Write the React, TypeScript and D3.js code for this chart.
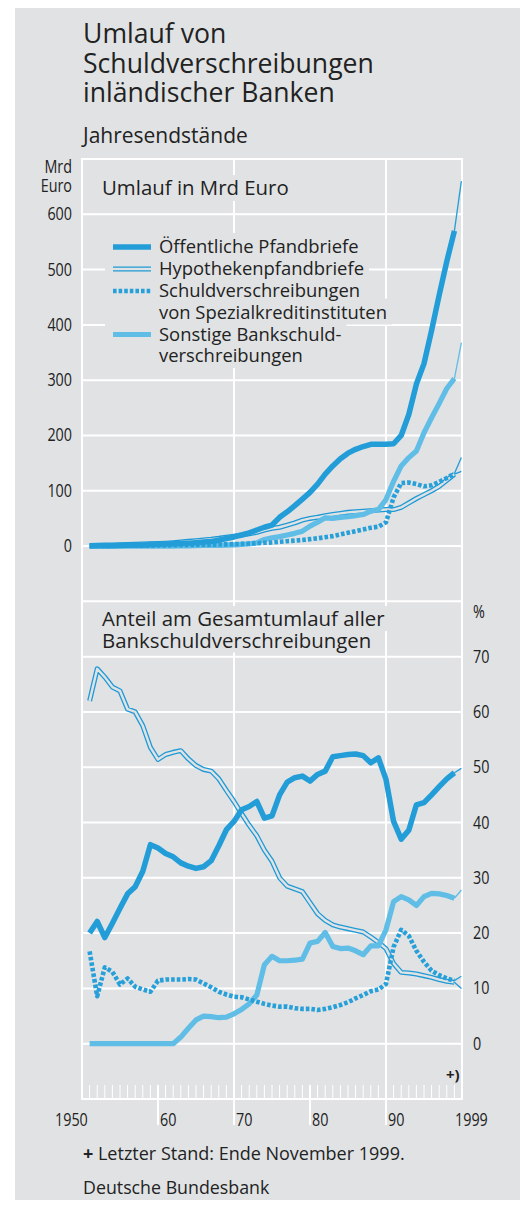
import React, { useEffect, useRef } from "react";
import * as d3 from "d3";

// ---------- data ----------
// year-end values (Jahresendstände) 1950 ... 1998
const YEARS = [
  1950, 1951, 1952, 1953, 1954, 1955, 1956, 1957, 1958, 1959,
  1960, 1961, 1962, 1963, 1964, 1965, 1966, 1967, 1968, 1969,
  1970, 1971, 1972, 1973, 1974, 1975, 1976, 1977, 1978, 1979,
  1980, 1981, 1982, 1983, 1984, 1985, 1986, 1987, 1988, 1989,
  1990, 1991, 1992, 1993, 1994, 1995, 1996, 1997, 1998,
];
// latest value: end of November 1999
const LAST_STAND = 1999 + 11 / 12;

// Umlauf in Mrd Euro
const OEFF_MRD = [
  0.3, 0.4, 0.5, 0.7, 1.0, 1.4, 1.7, 2.1, 2.8, 3.2,
  3.5, 4.0, 4.6, 5.3, 6.1, 7.2, 8.3, 10.5, 13.6, 16.5,
  20, 24, 29, 34, 38, 52, 62, 73, 85, 97,
  112, 130, 145, 158, 168, 175, 180, 184, 184, 184,
  185, 200, 238, 293, 330, 390, 454, 515, 570,
];
const OEFF_MRD_LAST = 660;
const HYP_MRD = [
  0.9, 1.3, 1.7, 2.1, 2.5, 3.0, 3.5, 3.9, 4.2, 4.6,
  5.3, 6.2, 7.4, 8.5, 9.7, 11.2, 12.4, 14.0, 16.1, 18.0,
  20, 22, 25, 29, 32, 34, 38, 42, 47, 50,
  52, 55, 57, 59, 61, 62, 63, 64, 65, 66,
  66, 70, 78, 86, 93, 100, 108, 119, 130,
];
const HYP_MRD_LAST = 135;
const SPEZ_MRD = [
  0.25, 0.2, 0.35, 0.45, 0.45, 0.6, 0.6, 0.65, 0.75, 1.0,
  1.2, 1.4, 1.6, 1.9, 2.2, 2.5, 2.6, 2.7, 3.1, 3.5,
  4.0, 4.5, 5.0, 6.0, 6.5, 7.8, 8.8, 9.8, 11, 12.5,
  14, 16, 18, 21, 24, 27, 30, 33, 35, 43,
  88, 114, 115, 112, 108, 110, 116, 123, 131,
];
const SPEZ_MRD_LAST = 160;
const SONST_MRD = [
  0, 0, 0, 0, 0, 0, 0, 0, 0, 0,
  0, 0, 0.15, 0.45, 0.8, 1.1, 1.2, 1.4, 1.7, 2.2,
  3.0, 4.0, 5.8, 12, 15, 17, 20, 23, 27, 36,
  43, 51, 50, 52, 53, 55, 57, 63, 66, 84,
  117, 145, 160, 172, 205, 232, 258, 285, 303,
];
const SONST_MRD_LAST = 368;

// Anteil am Gesamtumlauf in %
const OEFF_PCT = [
  20.0, 22.1, 19.2, 21.8, 24.5, 27.1, 28.4, 31.2, 36.0, 35.4,
  34.4, 33.8, 32.7, 32.1, 31.7, 32.0, 33.1, 35.8, 38.7, 40.2,
  42.3, 42.9, 43.8, 40.8, 41.2, 45.0, 47.3, 48.1, 48.4, 47.5,
  48.7, 49.3, 51.9, 52.1, 52.3, 52.4, 52.1, 50.8, 51.7, 47.8,
  40.2, 37.0, 38.6, 43.2, 43.6, 45.0, 46.5, 47.9, 49.0,
];
const OEFF_PCT_LAST = 49.8;
const HYP_PCT = [
  62.0, 67.8, 66.3, 64.5, 63.8, 60.5, 60.0, 57.5, 53.6, 51.4,
  52.3, 52.7, 53.0, 51.5, 50.3, 49.6, 49.3, 47.9, 45.8, 43.8,
  41.6, 39.5, 37.6, 35.0, 33.0, 30.0, 28.5, 28.0, 27.5, 25.5,
  23.5, 22.3, 21.5, 21.1, 20.8, 20.5, 20.2, 19.3, 18.3, 17.2,
  14.5, 12.9, 12.8, 12.6, 12.3, 12.0, 11.6, 11.3, 11.1,
];
const HYP_PCT_LAST = 10.0;
const SPEZ_PCT = [
  16.7, 8.6, 13.8, 13.0, 10.7, 11.8, 10.3, 9.8, 9.4, 11.4,
  11.6, 11.6, 11.6, 11.7, 11.6, 10.9, 10.2, 9.4, 8.9, 8.5,
  8.4, 8.0, 7.6, 7.2, 6.9, 6.7, 6.7, 6.4, 6.3, 6.3,
  6.1, 6.3, 6.6, 7.0, 7.5, 8.2, 8.8, 9.5, 9.8, 10.8,
  17.5, 20.6, 19.5, 16.8, 14.8, 13.2, 12.4, 11.8, 11.4,
];
const SPEZ_PCT_LAST = 12.2;
const SONST_PCT = [
  0, 0, 0, 0, 0, 0, 0, 0, 0, 0,
  0, 0, 1.2, 2.8, 4.3, 5.0, 4.9, 4.7, 4.8, 5.4,
  6.2, 7.2, 8.8, 14.3, 15.8, 15.0, 15.0, 15.1, 15.3, 18.2,
  18.5, 20.1, 17.6, 17.2, 17.3, 16.8, 16.1, 17.7, 17.7, 20.6,
  25.7, 26.6, 26.0, 25.0, 26.6, 27.2, 27.1, 26.8, 26.3,
];
const SONST_PCT_LAST = 27.8;

// texts and ticks
const TITLE_LINES = ["Umlauf von", "Schuldverschreibungen", "inländischer Banken"];
const SUBTITLE = "Jahresendstände";
const UNIT_LINES = ["Mrd", "Euro"];
const TOP_PANEL_LABEL = "Umlauf in Mrd Euro";
const BOTTOM_PANEL_LABEL = ["Anteil am Gesamtumlauf aller", "Bankschuldverschreibungen"];
const LEGEND = [
  { key: "oeff", lines: ["Öffentliche Pfandbriefe"] },
  { key: "hyp", lines: ["Hypothekenpfandbriefe"] },
  { key: "spez", lines: ["Schuldverschreibungen", "von Spezialkreditinstituten"] },
  { key: "sonst", lines: ["Sonstige Bankschuld-", "verschreibungen"] },
];
const TOP_TICKS = [0, 100, 200, 300, 400, 500, 600];
const BOTTOM_TICKS = [0, 10, 20, 30, 40, 50, 60, 70];
const X_LABELS = [
  { year: 1950, label: "1950" },
  { year: 1960, label: "60" },
  { year: 1970, label: "70" },
  { year: 1980, label: "80" },
  { year: 1990, label: "90" },
  { year: 2000, label: "1999" },
];
const FOOTNOTE = "Letzter Stand: Ende November 1999.";
const SOURCE = "Deutsche Bundesbank";

// ---------- style ----------
const W = 520;
const H = 1210;
const BG = "#e1e2e4";
const GRID = "#ffffff";
const TEXT = "#222222";
const FONT = "'Open Sans', 'Noto Sans', sans-serif";
const C_OEFF = "#229dd8";
const C_HYP = "#1d9ad6";
const C_SPEZ = "#27a0d9";
const C_SONST = "#5fbde6";

type Sel = d3.Selection<any, unknown, null, undefined>;

export default function App() {
  const ref = useRef<SVGSVGElement>(null);

  useEffect(() => {
    const svg = d3.select(ref.current as SVGSVGElement);
    svg.selectAll("*").remove();

    const plotL = 82;
    const plotR = 462;
    const plotT = 159;
    const plotB = 1099;
    const unit = (plotB - plotT) / 17;
    const split = plotT + 8 * unit;

    const x = d3.scaleLinear().domain([1950, 2000]).range([plotL, plotR]);
    const yTop = d3.scaleLinear().domain([-100, 700]).range([split, plotT]);
    const yBot = d3.scaleLinear().domain([-10, 80]).range([plotB, split]);

    // panel
    svg.append("rect").attr("x", 15).attr("y", 8).attr("width", W - 15).attr("height", 1192).attr("fill", BG);

    const grid = svg.append("g").attr("stroke", GRID).attr("stroke-width", 2);
    d3.range(-100, 701, 100).forEach((v) => {
      grid.append("line").attr("x1", plotL).attr("x2", plotR).attr("y1", yTop(v)).attr("y2", yTop(v));
    });
    d3.range(-10, 71, 10).forEach((v) => {
      grid.append("line").attr("x1", plotL).attr("x2", plotR).attr("y1", yBot(v)).attr("y2", yBot(v));
    });
    [1950, 2000].forEach((yr) => {
      grid.append("line").attr("x1", x(yr)).attr("x2", x(yr)).attr("y1", plotT - 1).attr("y2", plotB + 1);
    });
    [1970, 1990].forEach((yr) => {
      grid.append("line").attr("x1", x(yr)).attr("x2", x(yr)).attr("y1", plotT).attr("y2", plotB + 26);
    });
    [1960, 1980].forEach((yr) => {
      grid.append("line").attr("x1", x(yr)).attr("x2", x(yr)).attr("y1", plotB - 14).attr("y2", plotB + 26);
    });
    d3.range(1951, 2000).forEach((yr) => {
      if (yr % 10 === 0) return;
      grid.append("line").attr("stroke-width", 1).attr("x1", x(yr)).attr("x2", x(yr)).attr("y1", plotB - 14).attr("y2", plotB);
    });

    // text helpers
    const txt = (g: Sel, s: string, xp: number, yp: number, size: number, opts: any = {}) => {
      const t = g
        .append("text")
        .attr("font-family", FONT)
        .attr("font-size", size)
        .attr("fill", TEXT)
        .attr("font-weight", opts.weight || 400)
        .attr("text-anchor", opts.anchor || "start");
      if (opts.sx) {
        t.attr("transform", `translate(${xp},${yp}) scale(${opts.sx},1)`).attr("x", 0).attr("y", 0);
      } else {
        t.attr("x", xp).attr("y", yp);
      }
      t.text(s);
      return t;
    };
    // multi-line text in one <text> element; optional background rects per line
    const multi = (
      g: Sel,
      lines: { s: string; x: number; y: number; padL?: number }[],
      size: number,
      bg?: { top: number; bottom: number }
    ) => {
      const rg = g.append("g");
      const t = g
        .append("text")
        .attr("font-family", FONT)
        .attr("font-size", size)
        .attr("fill", TEXT);
      lines.forEach((ln) => {
        const sp = t.append("tspan").attr("x", ln.x).attr("y", ln.y).text(ln.s);
        if (bg) {
          const w = (sp.node() as SVGTSpanElement).getComputedTextLength();
          const pl = ln.padL ?? 3;
          rg.append("rect")
            .attr("x", ln.x - pl)
            .attr("y", ln.y - bg.top)
            .attr("width", w + pl + 5)
            .attr("height", bg.top + bg.bottom)
            .attr("fill", BG);
        }
      });
      return t;
    };

    const labels = svg.append("g");
    // title
    multi(labels, TITLE_LINES.map((s, i) => ({ s, x: 83, y: 43 + i * 29.5 })), 26.6);
    txt(labels, SUBTITLE, 83, 143, 21);

    // axis labels (condensed)
    const SX = 0.82;
    const unitT = labels
      .append("text")
      .attr("font-family", FONT)
      .attr("font-size", 17.5)
      .attr("fill", TEXT)
      .attr("text-anchor", "end")
      .attr("transform", `translate(72,0) scale(${SX},1)`);
    UNIT_LINES.forEach((s, i) => unitT.append("tspan").attr("x", 0).attr("y", 173 + i * 19).text(s));
    TOP_TICKS.forEach((v) => txt(labels, String(v), 72, yTop(v) + 6, 17.5, { anchor: "end", sx: SX }));
    txt(labels, "%", 473, 618, 17.5, { sx: SX });
    BOTTOM_TICKS.forEach((v) => txt(labels, String(v), 473, yBot(v) + 6, 17.5, { sx: SX }));
    X_LABELS.forEach((d) => {
      let xp = x(d.year) + 2;
      if (d.year === 1950) xp = x(d.year) - 27;
      if (d.year === 2000) xp = x(d.year) - 7;
      txt(labels, d.label, xp, 1126, 17.5, { sx: SX });
    });
    txt(labels, "+)", 446, 1080, 15, { weight: 700 });

    // footnotes
    const fn = txt(labels, "", 83, 1160, 18);
    fn.append("tspan").attr("font-weight", 700).text("+");
    fn.append("tspan").text(" " + FOOTNOTE);
    txt(labels, SOURCE, 83, 1194, 17.8);

    // panel labels with backgrounds
    multi(labels, [{ s: TOP_PANEL_LABEL, x: 102, y: 195 }], 20.4, { top: 20, bottom: 6 });
    multi(
      labels,
      BOTTOM_PANEL_LABEL.map((s, i) => ({ s, x: 102, y: 626 + i * 21.5 })),
      20.4,
      { top: 20, bottom: 5 }
    );

    // series painters
    const styles: Record<string, (p: Sel) => void> = {
      oeff: (p) => p.attr("stroke", C_OEFF).attr("stroke-width", 5.5),
      hyp: (p) => p.attr("stroke", C_HYP).attr("stroke-width", 5),
      spez: (p) => p.attr("stroke", C_SPEZ).attr("stroke-width", 4.6).attr("stroke-dasharray", "3.6,2"),
      sonst: (p) => p.attr("stroke", C_SONST).attr("stroke-width", 5.2),
    };
    const lastColor: Record<string, string> = { oeff: C_OEFF, hyp: C_HYP, spez: C_SPEZ, sonst: C_SONST };

    const drawPath = (g: Sel, key: string, d: string) => {
      const p = g.append("path").attr("d", d).attr("fill", "none").attr("stroke-linejoin", "round");
      styles[key](p);
      if (key === "hyp") {
        g.append("path").attr("d", d).attr("fill", "none").attr("stroke", BG).attr("stroke-width", 2.4).attr("stroke-linejoin", "round");
      }
    };

    const drawSeries = (g: Sel, key: string, vals: number[], last: number, y: d3.ScaleLinear<number, number>) => {
      const pts = YEARS.map((yr, i) => ({ t: yr + 1, v: vals[i] }));
      const line = d3
        .line<{ t: number; v: number }>()
        .x((d) => x(d.t))
        .y((d) => y(d.v));
      drawPath(g, key, line(pts) as string);
      const tail = [pts[pts.length - 1], { t: LAST_STAND, v: last }];
      g.append("path")
        .attr("d", line(tail) as string)
        .attr("fill", "none")
        .attr("stroke", lastColor[key])
        .attr("stroke-width", 1.3);
    };

    const series = svg.append("g");
    // top panel
    drawSeries(series, "hyp", HYP_MRD, HYP_MRD_LAST, yTop);
    drawSeries(series, "sonst", SONST_MRD, SONST_MRD_LAST, yTop);
    drawSeries(series, "spez", SPEZ_MRD, SPEZ_MRD_LAST, yTop);
    drawSeries(series, "oeff", OEFF_MRD, OEFF_MRD_LAST, yTop);
    // bottom panel
    drawSeries(series, "hyp", HYP_PCT, HYP_PCT_LAST, yBot);
    drawSeries(series, "sonst", SONST_PCT, SONST_PCT_LAST, yBot);
    drawSeries(series, "spez", SPEZ_PCT, SPEZ_PCT_LAST, yBot);
    drawSeries(series, "oeff", OEFF_PCT, OEFF_PCT_LAST, yBot);

    // legend (all lines in one text element)
    const leg = svg.append("g");
    const legLines: { s: string; x: number; y: number; padL: number }[] = [];
    const symbols: { key: string; y: number }[] = [];
    let base = 253;
    LEGEND.forEach((item) => {
      item.lines.forEach((s, j) => legLines.push({ s, x: 159, y: base + j * 21.5, padL: 54 }));
      symbols.push({ key: item.key, y: base - 6 });
      base += item.lines.length * 21.5 + 0.5;
    });
    multi(leg, legLines, 18.4, { top: 20, bottom: 6 });
    symbols.forEach((sym) => drawPath(leg, sym.key, `M113,${sym.y}L151,${sym.y}`));
  }, []);

  return (
    <svg
      ref={ref}
      width={W}
      height={H}
      style={{ position: "absolute", left: 0, top: 0, display: "block" }}
    />
  );
}
